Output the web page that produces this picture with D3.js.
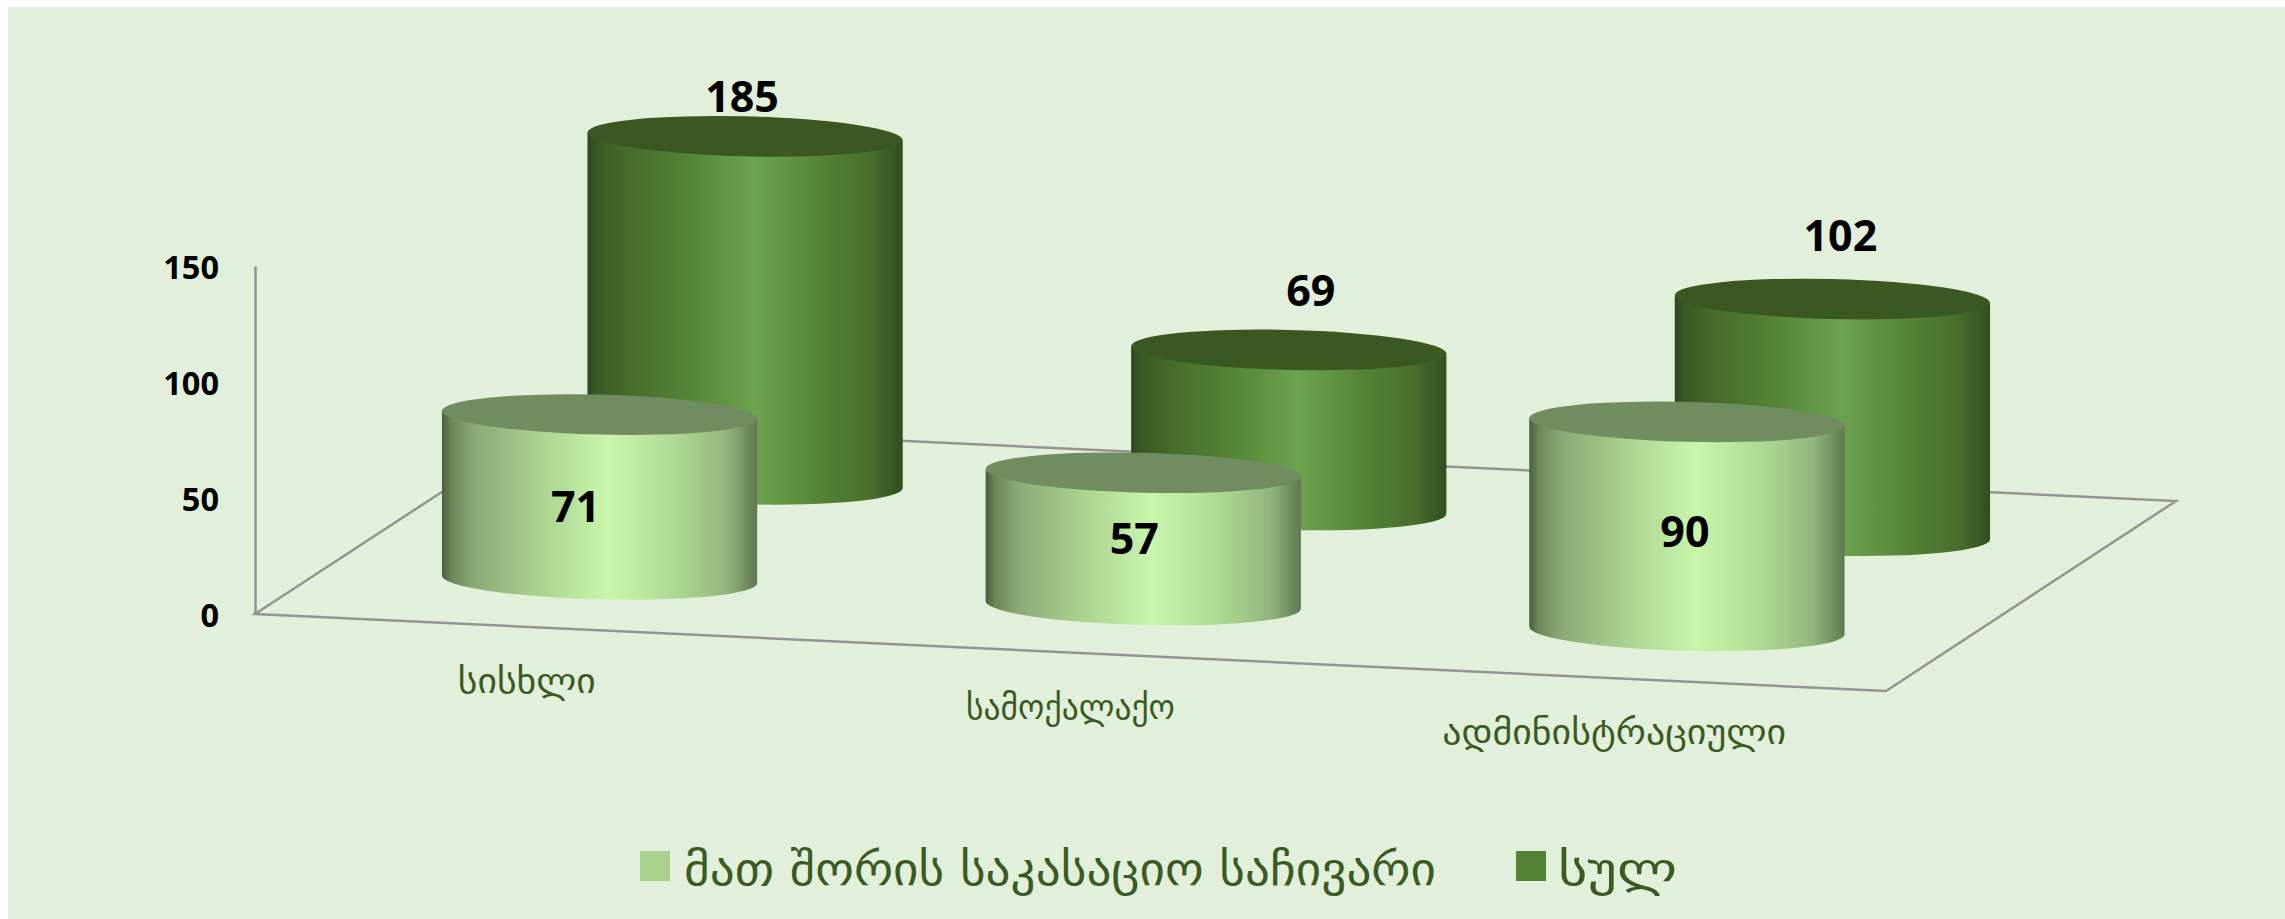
<!DOCTYPE html>
<html>
<head>
<meta charset="utf-8">
<script src="https://cdn.jsdelivr.net/npm/d3@7"></script>
<style>
  html, body { margin: 0; padding: 0; background: #fff; }
  svg { display: block; }
</style>
</head>
<body>
<div id="chart"></div>
<script>
const categories = ["სისხლი", "სამოქალაქო", "ადმინისტრაციული"];
const seriesNames = ["მათ შორის საკასაციო საჩივარი", "სულ"];
const cassation = [71, 57, 90];
const total = [185, 69, 102];
const valueTicks = [0, 50, 100, 150];

const width = 2285, height = 919;
const text_colour = "#3a5a24", axis_colour = "#949494";
const num_font = "'Open Sans', sans-serif", geo_font = "'DejaVu Sans', sans-serif";

// the floor of the 3d box, in page pixels
const floor = { frontLeft: [255, 614], frontRight: [1886, 691], backRight: [2176, 501], backLeft: [546, 424] };
const cap_ry = 20;
const cap_tilt = 1.4; // degrees

// where excel left each data label, relative to the top centre of its cylinder
const label_nudge = [
  [[-24, 107], [-9, 81], [-2, 125]],
  [[-3, -24], [22, -44], [8, -48]]
];
// width each category text takes in the picture
const cat_widths = [138, 209, 344];

var svg = d3.select("#chart").append("svg")
    .attr("width", width)
    .attr("height", height);

svg.append("rect")
    .attr("x", 8).attr("y", 7)
    .attr("width", width - 8).attr("height", height - 7)
    .attr("fill", "#e2efda");

// scales: along the front edge, into the depth, and up
var u = d3.scaleBand().domain(categories).range([0, 1]).paddingInner(0.42).paddingOuter(0.21);
var v = d3.scaleBand().domain(seriesNames).range([0, 1]);
var y = d3.scaleLinear().domain([0, 150]).range([614, 266]).clamp(true); // 185 gets cut at the axis max

function project(a, b) {
  return [
    floor.frontLeft[0] + a * (floor.frontRight[0] - floor.frontLeft[0]) + b * (floor.backLeft[0] - floor.frontLeft[0]),
    floor.frontLeft[1] + a * (floor.frontRight[1] - floor.frontLeft[1]) + b * (floor.backLeft[1] - floor.frontLeft[1])
  ];
}

// gradients round the cylinder sides
var defs = svg.append("defs");
var gradients = [
  { id: "side-light", stops: [[0, "#465f3c"], [0.03, "#6c8759"], [0.1, "#8aa875"], [0.3, "#a9d18e"], [0.53, "#c9f6ab"], [0.75, "#acd791"], [0.9, "#93b67e"], [1, "#5f7852"]] },
  { id: "side-dark", stops: [[0, "#2d471d"], [0.03, "#395822"], [0.12, "#466a2b"], [0.3, "#548235"], [0.53, "#6ca34f"], [0.75, "#548235"], [0.9, "#486e2c"], [1, "#324e1f"]] }
];
gradients.forEach(function(g) {
  defs.append("linearGradient").attr("id", g.id)
    .selectAll("stop").data(g.stops).enter().append("stop")
      .attr("offset", function(d) { return d[0]; })
      .attr("stop-color", function(d) { return d[1]; });
});

// floor lines
svg.append("path")
    .attr("d", d3.line()([floor.frontLeft, floor.frontRight, floor.backRight, floor.backLeft]) + "Z")
    .attr("fill", "none")
    .attr("stroke", axis_colour)
    .attr("stroke-width", 2.5);

// value axis
var yAxis = svg.append("g")
    .attr("transform", "translate(" + floor.frontLeft[0] + ",0)")
    .call(d3.axisLeft(y).tickValues(valueTicks).tickSize(0).tickPadding(36));
yAxis.select(".domain").attr("stroke", axis_colour).attr("stroke-width", 2.5);
yAxis.selectAll("text")
    .attr("dy", "0.38em")
    .attr("fill", "#000")
    .style("font-family", num_font)
    .style("font-weight", 700)
    .style("font-size", "32.5px");

// category labels under the front edge
svg.selectAll("text.cat")
  .data(categories)
  .enter()
  .append("text")
    .attr("class", "cat")
    .attr("x", function(d) { return project(u(d) + u.bandwidth() / 2, 0)[0]; })
    .attr("y", function(d) { return project(u(d) + u.bandwidth() / 2, 0)[1] + 66; })
    .attr("text-anchor", "middle")
    .attr("textLength", function(d, i) { return cat_widths[i]; })
    .attr("lengthAdjust", "spacingAndGlyphs")
    .attr("fill", text_colour)
    .style("font-family", geo_font)
    .style("font-size", "35px")
    .text(function(d) { return d; });

// centre of the base, cap radius and height of one cylinder
function cylinder_parts(cat, name, value) {
  return {
    c: project(u(cat) + u.bandwidth() / 2, v(name) + v.bandwidth() / 2),
    rx: u.bandwidth() / 2 * (floor.frontRight[0] - floor.frontLeft[0]),
    h: y(0) - y(value)
  };
}

// cylinders, back row first
var rows = [
  { name: seriesNames[1], values: total, side: "url(#side-dark)", cap: "#3b5823", row: 1 },
  { name: seriesNames[0], values: cassation, side: "url(#side-light)", cap: "#728c62", row: 0 }
];
var rad = cap_tilt * Math.PI / 180;

rows.forEach(function(s) {
  var g = svg.append("g");
  categories.forEach(function(cat, i) {
    var p = cylinder_parts(cat, s.name, s.values[i]);
    var ex = p.rx * Math.cos(rad), ey = p.rx * Math.sin(rad);
    var bx = p.c[0], by = p.c[1], ty = by - p.h;
    g.append("path")
      .attr("d", "M" + (bx - ex) + "," + (ty - ey) +
        "L" + (bx - ex) + "," + (by - ey) +
        "A" + p.rx + "," + cap_ry + " " + cap_tilt + " 0 0 " + (bx + ex) + "," + (by + ey) +
        "L" + (bx + ex) + "," + (ty + ey) + "Z")
      .attr("fill", s.side);
    g.append("ellipse")
      .attr("cx", bx).attr("cy", ty)
      .attr("rx", p.rx).attr("ry", cap_ry)
      .attr("transform", "rotate(" + cap_tilt + " " + bx + " " + ty + ")")
      .attr("fill", s.cap);
  });
});

// data labels on top of everything
rows.forEach(function(s) {
  categories.forEach(function(cat, i) {
    var p = cylinder_parts(cat, s.name, s.values[i]);
    var n = label_nudge[s.row][i];
    svg.append("text")
      .attr("x", p.c[0] + n[0])
      .attr("y", p.c[1] - p.h + n[1])
      .attr("text-anchor", "middle")
      .attr("fill", "#000")
      .style("font-family", num_font)
      .style("font-weight", 700)
      .style("font-size", "43px")
      .text(s.values[i]);
  });
});

// legend
var legend_items = [
  { name: seriesNames[0], colour: "#a9d18e", x: 640, textX: 684, w: 752 },
  { name: seriesNames[1], colour: "#548235", x: 1516, textX: 1558, w: 119 }
];
legend_items.forEach(function(d) {
  svg.append("rect")
    .attr("x", d.x).attr("y", 851)
    .attr("width", 30).attr("height", 30)
    .attr("fill", d.colour);
  svg.append("text")
    .attr("x", d.textX).attr("y", 885)
    .attr("textLength", d.w)
    .attr("lengthAdjust", "spacingAndGlyphs")
    .attr("fill", text_colour)
    .style("font-family", geo_font)
    .style("font-size", "46px")
    .text(d.name);
});
</script>
</body>
</html>
